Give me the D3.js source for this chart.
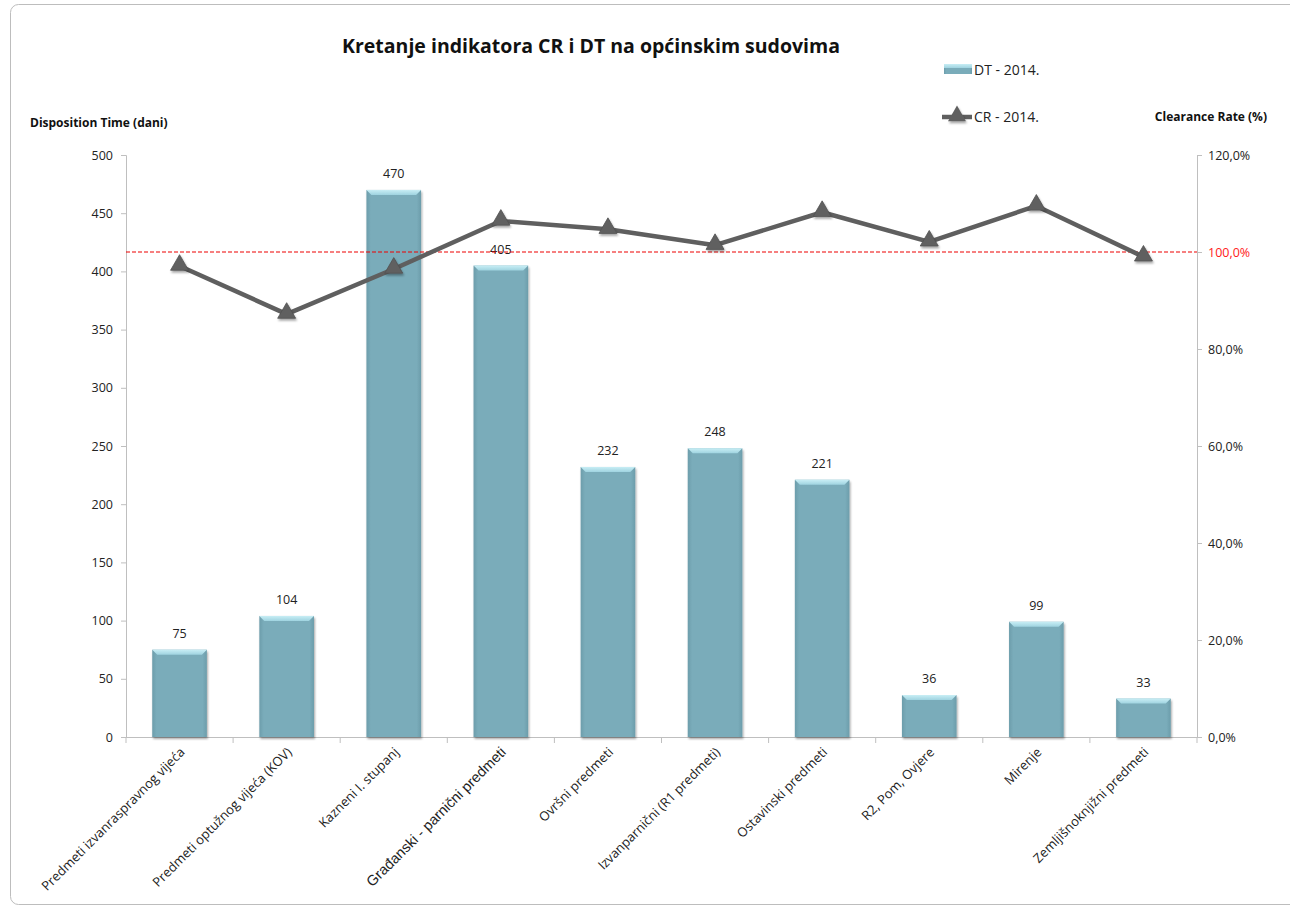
<!DOCTYPE html>
<html><head><meta charset="utf-8">
<script src="https://cdn.jsdelivr.net/npm/d3@7"></script>
<style>body{margin:0;background:#fff}svg{display:block}</style>
</head><body>
<svg id="c" width="1290" height="910"></svg>
<script>
const categories = ["Predmeti izvanraspravnog vijeća","Predmeti optužnog vijeća (KOV)","Kazneni I. stupanj","Građanski - parnični predmeti","Ovršni predmeti","Izvanparnični (R1 predmeti)","Ostavinski predmeti","R2, Pom, Ovjere","Mirenje","Zemljišnoknjižni predmeti"];
const dtValues = [75,104,470,405,232,248,221,36,99,33];
const crValues = [97.1,87.2,96.5,106.4,104.7,101.4,108.2,102.1,109.5,99.0];
const leftTicks = [0,50,100,150,200,250,300,350,400,450,500];
const rightTicks = [0,20,40,60,80,100,120];
const refLine = 100;

const svg = d3.select("#c");
const font = "'Open Sans', 'Noto Sans', sans-serif";
const L=126, R=1197, T=155, B=737;

const defs = svg.append("defs");
const g1 = defs.append("linearGradient").attr("id","barg").attr("x1","0").attr("x2","1").attr("y1","0").attr("y2","0");
g1.append("stop").attr("offset","0").attr("stop-color","#6c9dab");
g1.append("stop").attr("offset","0.08").attr("stop-color","#7aacba");
g1.append("stop").attr("offset","0.92").attr("stop-color","#7aacba");
g1.append("stop").attr("offset","1").attr("stop-color","#6c9dab");
const g2 = defs.append("linearGradient").attr("id","topg").attr("x1","0").attr("x2","0").attr("y1","0").attr("y2","1");
g2.append("stop").attr("offset","0").attr("stop-color","#c8eef5");
g2.append("stop").attr("offset","1").attr("stop-color","#9fd3e0");
const f = defs.append("filter").attr("id","sh").attr("x","-50%").attr("y","-50%").attr("width","200%").attr("height","200%");
f.append("feDropShadow").attr("dx",1).attr("dy",2).attr("stdDeviation",1.2).attr("flood-color","#000").attr("flood-opacity",0.35);

// frame
svg.append("rect").attr("x",10.5).attr("y",4.5).attr("width",1290).attr("height",900).attr("rx",8)
  .attr("fill","#fff").attr("stroke","#bdbdbd");

const x = d3.scaleBand().domain(categories).range([L,R]).paddingInner(0.49).paddingOuter(0.245);
const yL = d3.scaleLinear().domain([0,500]).range([B,T]);
const yR = d3.scaleLinear().domain([0,120]).range([B,T]);

// left axis
const axL = svg.append("g").attr("transform",`translate(${L},0)`)
  .call(d3.axisLeft(yL).tickValues(leftTicks).tickSize(5).tickPadding(8));
axL.select(".domain").attr("stroke","#bfbfbf");
axL.selectAll(".tick line").attr("stroke","#bfbfbf");
axL.selectAll("text").attr("font-family",font).attr("font-size",12.5).attr("fill","#222");

// right axis
const axR = svg.append("g").attr("transform",`translate(${R},0)`)
  .call(d3.axisRight(yR).tickValues(rightTicks).tickSize(5).tickPadding(6).tickFormat(d=>d3.format(".1f")(d).replace(".",",")+"%"));
axR.select(".domain").attr("stroke","#bfbfbf");
axR.selectAll(".tick line").attr("stroke","#bfbfbf");
axR.selectAll("text").attr("font-family",font).attr("font-size",12.5).attr("fill",d=>d===refLine?"#ff2020":"#222");

// x axis line + ticks between categories
svg.append("line").attr("x1",L).attr("x2",R).attr("y1",B+0.5).attr("y2",B+0.5).attr("stroke","#bfbfbf");
d3.range(categories.length+1).forEach(i=>{
  const xx = L + i*(R-L)/categories.length;
  svg.append("line").attr("x1",xx).attr("x2",xx).attr("y1",B).attr("y2",B+6).attr("stroke","#bfbfbf");
});

// bars
const bars = svg.append("g");
categories.forEach((c,i)=>{
  const bx = x(c), bw = x.bandwidth(), by = yL(dtValues[i]);
  bars.append("rect").attr("x",bx).attr("y",by).attr("width",bw).attr("height",B-by).attr("fill","url(#barg)").attr("filter","url(#sh)");
  bars.append("path").attr("d",`M${bx},${by}L${bx+bw},${by}L${bx+bw-5},${by+5}L${bx+5},${by+5}Z`).attr("fill","url(#topg)");
  bars.append("text").attr("x",bx+bw/2).attr("y",by-12).attr("text-anchor","middle")
    .attr("font-family",font).attr("font-size",12.5).attr("fill","#222").text(dtValues[i]);
});

// ref line
svg.append("line").attr("x1",L).attr("x2",R).attr("y1",yR(refLine)).attr("y2",yR(refLine))
  .attr("stroke","#e00").attr("stroke-width",1.2).attr("stroke-dasharray","4,2");

// CR line
const cx = c => x(c)+x.bandwidth()/2;
const line = d3.line().x((d,i)=>cx(categories[i])).y(d=>yR(d));
svg.append("path").datum(crValues).attr("d",line).attr("fill","none").attr("stroke","#5f5f5f").attr("stroke-width",4.5).attr("stroke-linejoin","round");
const tri = d3.symbol().type(d3.symbolTriangle).size(140);
svg.append("g").selectAll("path").data(crValues).join("path")
  .attr("d",tri).attr("transform",(d,i)=>`translate(${cx(categories[i])},${yR(d)-1})`)
  .attr("fill","#606060").attr("stroke","#505050").attr("stroke-width",0.8).attr("filter","url(#sh)");

// x labels
svg.append("g").selectAll("text").data(categories).join("text")
  .attr("transform",d=>`translate(${cx(d)+6},${B+16}) rotate(-45)`)
  .attr("text-anchor","end")
  .attr("font-family",(d,i)=>i===3?"'Liberation Sans', Arial, sans-serif":font)
  .attr("font-size",(d,i)=>i===3?14.5:13).attr("fill","#222").text(d=>d);

// title
svg.append("text").attr("x",591).attr("y",53).attr("text-anchor","middle")
  .attr("font-family",font).attr("font-weight","bold").attr("font-size",19.5).attr("fill","#111")
  .text("Kretanje indikatora CR i DT na općinskim sudovima");

// axis titles
svg.append("text").attr("x",30).attr("y",127).attr("font-family",font).attr("font-weight","bold").attr("font-size",12).attr("fill","#111").text("Disposition Time (dani)");
svg.append("text").attr("x",1267).attr("y",121).attr("text-anchor","end").attr("font-family",font).attr("font-weight","bold").attr("font-size",12).attr("fill","#111").text("Clearance Rate (%)");

// legend
const lg = svg.append("g");
lg.append("rect").attr("x",944).attr("y",64).attr("width",28).attr("height",10).attr("fill","url(#barg)");
lg.append("rect").attr("x",944).attr("y",64).attr("width",28).attr("height",4).attr("fill","url(#topg)");
lg.append("text").attr("x",974).attr("y",75).attr("font-family",font).attr("font-size",14).attr("fill","#222").text("DT - 2014.");
lg.append("line").attr("x1",942).attr("x2",972).attr("y1",117).attr("y2",117).attr("stroke","#5f5f5f").attr("stroke-width",4.5);
lg.append("path").attr("d",tri).attr("transform","translate(957,116)").attr("fill","#606060").attr("filter","url(#sh)");
lg.append("text").attr("x",974).attr("y",122).attr("font-family",font).attr("font-size",14).attr("fill","#222").text("CR - 2014.");
</script>
</body></html>
